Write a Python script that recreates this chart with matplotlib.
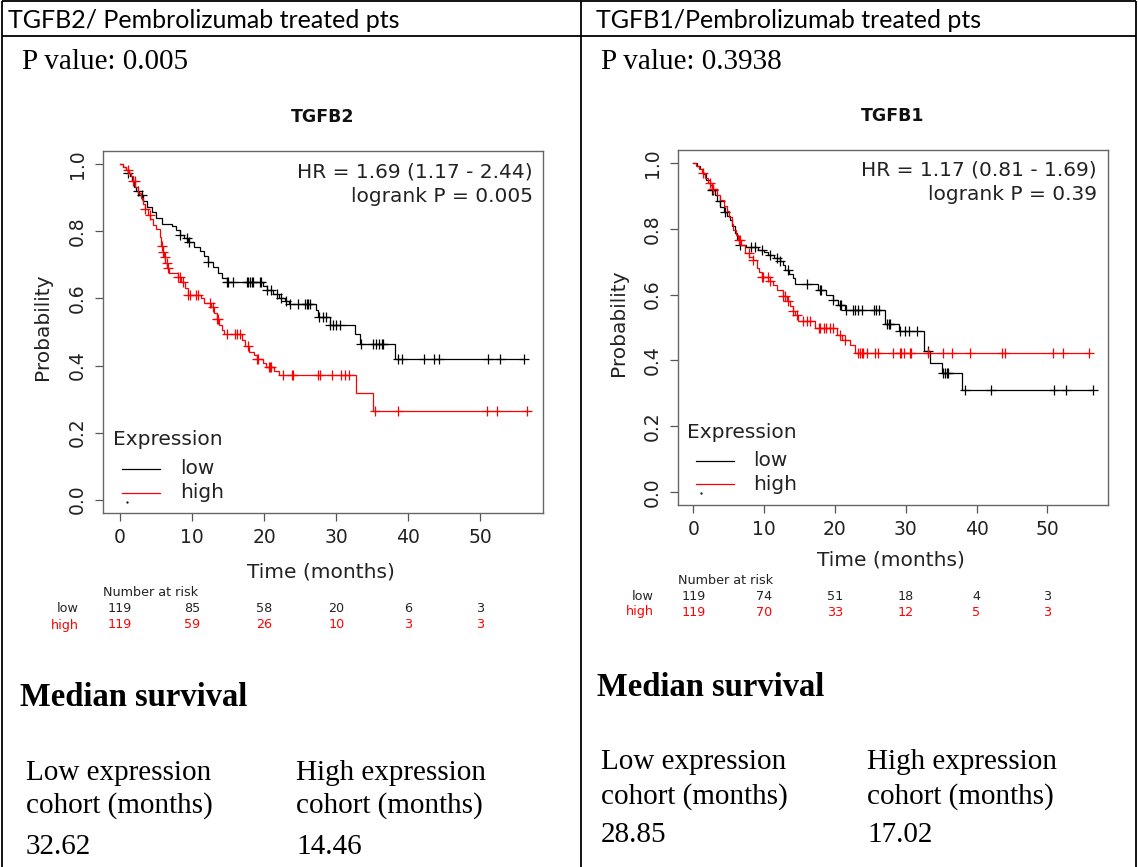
import matplotlib
matplotlib.use("Agg")
import matplotlib.pyplot as plt
import numpy as np
from matplotlib.lines import Line2D
from matplotlib.transforms import blended_transform_factory

# ---------------------------------------------------------------- data
headers = ["TGFB2/ Pembrolizumab treated pts", "TGFB1/Pembrolizumab treated pts"]
p_values = ["0.005", "0.3938"]
genes = ["TGFB2", "TGFB1"]
hr_texts = ["HR = 1.69 (1.17 - 2.44)", "HR = 1.17 (0.81 - 1.69)"]
logrank_texts = ["logrank P = 0.005", "logrank P = 0.39"]

time_ticks = [0, 10, 20, 30, 40, 50]
prob_ticks = [0.0, 0.2, 0.4, 0.6, 0.8, 1.0]
groups = ["low", "high"]

# TGFB2 Kaplan-Meier steps (time in months, survival after the step)
tgfb2_low_t = [0, 0.4, 0.8, 1.1, 1.4, 1.7, 2.0, 2.2, 2.7, 3.2, 3.7, 4.4, 5.0, 5.8,
               7.2, 7.8, 8.3, 8.9, 9.4, 10.2, 11.1, 11.6, 12.2, 12.9, 13.6, 14.2,
               14.8, 19.8, 20.4, 21.2, 22.0, 22.9, 23.5, 27.2, 27.5, 29.1, 32.6,
               33.3, 38.1]
tgfb2_low_s = [1.0, 0.992, 0.983, 0.975, 0.966, 0.950, 0.933, 0.920, 0.908, 0.891,
               0.874, 0.857, 0.840, 0.823, 0.815, 0.803, 0.790, 0.779, 0.768, 0.755,
               0.742, 0.727, 0.710, 0.693, 0.676, 0.662, 0.649, 0.637, 0.625, 0.613,
               0.601, 0.592, 0.584, 0.565, 0.546, 0.521, 0.495, 0.465, 0.419]
tgfb2_low_cens = [1.15, 2.5, 3.0, 8.3, 9.25, 9.5, 12.2, 14.8, 15.0, 15.7, 17.6,
                  17.8, 18.0, 18.3, 18.5, 19.4, 19.6, 20.4, 20.9, 21.8, 22.3, 23.0,
                  23.6, 24.7, 25.6, 25.9, 26.1, 26.4, 27.6, 28.1, 28.6, 29.1, 29.5,
                  30.0, 30.5, 33.4, 35.1, 35.5, 35.9, 36.3, 36.5, 38.6, 39.1, 42.1,
                  43.6, 44.2, 51.1, 52.7, 56.1]

tgfb2_high_t = [0, 0.4, 0.8, 1.2, 1.5, 1.8, 2.1, 2.5, 2.9, 3.2, 3.4, 3.9, 4.2, 4.6,
                5.0, 5.5, 5.7, 5.9, 6.1, 6.3, 6.5, 6.8, 8.0, 8.5, 9.0, 9.4, 11.3,
                11.7, 12.6, 13.1, 13.4, 13.7, 14.1, 14.4, 16.9, 17.3, 17.9, 18.6,
                19.0, 19.8, 20.2, 21.3, 22.0, 32.7, 35.1]
tgfb2_high_s = [1.0, 0.992, 0.983, 0.975, 0.966, 0.950, 0.933, 0.916, 0.899, 0.882,
                0.866, 0.849, 0.837, 0.820, 0.807, 0.782, 0.757, 0.740, 0.723, 0.706,
                0.690, 0.676, 0.665, 0.649, 0.630, 0.611, 0.600, 0.588, 0.575, 0.556,
                0.540, 0.522, 0.506, 0.494, 0.476, 0.458, 0.441, 0.430, 0.419, 0.407,
                0.396, 0.384, 0.371, 0.317, 0.264]
tgfb2_high_cens = [1.15, 1.85, 2.08, 3.47, 4.16, 5.78, 6.0, 6.24, 6.47, 6.7, 8.09,
                   8.32, 8.78, 9.48, 9.71, 10.6, 10.86, 12.48, 12.94, 13.4, 13.6,
                   14.8, 15.95, 16.2, 16.6, 17.8, 19.0, 19.2, 20.6, 20.8, 21.0,
                   22.65, 23.8, 24.0, 27.5, 27.7, 29.4, 30.7, 31.2, 31.7, 35.4,
                   38.6, 50.9, 52.3, 56.4]

# TGFB1 Kaplan-Meier steps
tgfb1_low_t = [0, 0.5, 1.0, 1.4, 1.8, 2.35, 2.6, 3.0, 3.4, 3.8, 4.3, 4.7, 5.2, 5.5,
               5.9, 6.2, 6.6, 7.5, 9.2, 10.0, 10.6, 11.4, 12.2, 12.6, 12.95, 13.5,
               14.1, 14.4, 17.6, 18.8, 19.8, 20.5, 21.4, 27.1, 29.0, 32.6, 33.4,
               35.1, 37.9]
tgfb1_low_s = [1.0, 0.992, 0.983, 0.966, 0.950, 0.933, 0.919, 0.902, 0.885, 0.868,
               0.851, 0.838, 0.828, 0.808, 0.787, 0.770, 0.752, 0.745, 0.737, 0.729,
               0.721, 0.711, 0.701, 0.689, 0.676, 0.663, 0.650, 0.633, 0.615, 0.600,
               0.585, 0.569, 0.554, 0.512, 0.488, 0.427, 0.392, 0.362, 0.309]
tgfb1_low_cens = [2.6, 2.8, 3.77, 4.5, 6.6, 8.2, 8.7, 9.7, 10.8, 11.8, 12.2, 13.4,
                  16.0, 17.9, 18.1, 19.8, 20.7, 20.9, 21.6, 22.5, 22.8, 23.2, 23.8,
                  25.5, 25.8, 26.2, 27.3, 27.6, 27.8, 29.2, 29.9, 30.4, 31.6, 33.2,
                  35.3, 35.5, 35.8, 36.0, 38.4, 42.1, 50.9, 52.7, 56.4]

tgfb1_high_t = [0, 0.4, 0.8, 1.2, 1.6, 2.1, 2.6, 3.3, 3.8, 4.3, 4.7, 5.0, 5.4, 5.65,
                6.0, 6.36, 6.7, 7.3, 7.9, 8.5, 8.95, 9.3, 9.66, 10.8, 11.3, 11.8,
                12.7, 13.2, 13.7, 14.1, 14.4, 14.8, 17.2, 20.25, 21.0, 22.1, 22.8]
tgfb1_high_s = [1.0, 0.992, 0.983, 0.970, 0.955, 0.939, 0.921, 0.904, 0.887, 0.870,
                0.853, 0.836, 0.816, 0.797, 0.782, 0.767, 0.750, 0.726, 0.716, 0.706,
                0.681, 0.668, 0.655, 0.640, 0.628, 0.615, 0.595, 0.580, 0.564, 0.551,
                0.539, 0.519, 0.498, 0.478, 0.463, 0.448, 0.422]
tgfb1_high_cens = [1.41, 2.35, 2.8, 6.4, 6.6, 7.8, 8.5, 9.7, 9.9, 10.6, 10.8, 12.7,
                   12.9, 13.4, 14.1, 14.6, 15.5, 16.0, 16.5, 17.7, 17.9, 18.4, 18.8,
                   19.3, 19.8, 20.7, 21.4, 23.3, 23.55, 23.8, 24.0, 24.5, 25.7,
                   26.1, 28.2, 29.2, 29.4, 29.7, 30.6, 30.8, 33.2, 35.3, 36.5, 39.1,
                   43.6, 44.0, 50.8, 52.2, 55.9]

# Number at risk
tgfb2_risk_low = [119, 85, 58, 20, 6, 3]
tgfb2_risk_high = [119, 59, 26, 10, 3, 3]
tgfb1_risk_low = [119, 74, 51, 18, 4, 3]
tgfb1_risk_high = [119, 70, 33, 12, 5, 3]

# Median survival (months)
median_low = ["32.62", "28.85"]
median_high = ["14.46", "17.02"]

# ---------------------------------------------------------------- figure
W, H = 1138, 867
fig = plt.figure(figsize=(W / 100, H / 100), dpi=100)
plt.rcParams["font.family"] = ["DejaVu Sans"]

SERIF = "Liberation Serif"
HEAD = "Lato"
LOW_C = "black"
HIGH_C = "#ff0000"


def fx(x):
    return x / W


def fy(y):
    return 1 - y / H


def ftext(x, y, s, **kw):
    return fig.text(fx(x), fy(y), s, **kw)


def fline(x0, y0, x1, y1, **kw):
    fig.add_artist(Line2D([fx(x0), fx(x1)], [fy(y0), fy(y1)],
                          transform=fig.transFigure, **kw))


def add_axes_px(x0, y0, x1, y1):
    return fig.add_axes([fx(x0), fy(y1), (x1 - x0) / W, (y1 - y0) / H])


def km_draw(ax, t, s, cens, color):
    t = np.asarray(t, float)
    s = np.asarray(s, float)
    cens = np.asarray(cens, float)
    t_end = cens.max()
    ax.step(np.append(t, t_end), np.append(s, s[-1]), where="post",
            color=color, lw=0.9, solid_joinstyle="miter")
    idx = np.searchsorted(t, cens, side="right") - 1
    ax.plot(cens, s[idx], ls="none", marker="+", ms=7.5, mew=0.9, color=color)


# ---------------------------------------------------------------- table frame
frame_kw = dict(color="black", lw=1.3, solid_capstyle="butt")
fline(2, 1, 1136, 1, **frame_kw)
fline(2, 1, 2, 867, **frame_kw)
fline(1136, 1, 1136, 867, **frame_kw)
fline(581, 1, 581, 867, **frame_kw)
fline(2, 36, 1136, 36, **frame_kw)

# ---------------------------------------------------------------- panels
panels = [
    dict(box=(103, 151, 543, 513), xlim=(-2.36, 58.67),
         low=(tgfb2_low_t, tgfb2_low_s, tgfb2_low_cens),
         high=(tgfb2_high_t, tgfb2_high_s, tgfb2_high_cens),
         risk=(tgfb2_risk_low, tgfb2_risk_high),
         head_x=8, p_x=22, p_y=62, title_y=117, ylab_x=42, xlab_y=572,
         risk_y=(592, 608, 625), risk_lab_x=79,
         hr_x=533, hr_y=(172, 197),
         leg=dict(title=(113, 440), line=(122, 160), txt=180, rows=(469, 493)),
         med=dict(title=(20, 697), xs=(26, 296), ys=(773, 806, 847))),
    dict(box=(678, 150, 1108, 505), xlim=(-2.16, 58.57),
         low=(tgfb1_low_t, tgfb1_low_s, tgfb1_low_cens),
         high=(tgfb1_high_t, tgfb1_high_s, tgfb1_high_cens),
         risk=(tgfb1_risk_low, tgfb1_risk_high),
         head_x=596, p_x=601, p_y=62, title_y=116, ylab_x=619, xlab_y=560,
         risk_y=(580, 596, 612), risk_lab_x=654,
         hr_x=1097, hr_y=(170, 195),
         leg=dict(title=(687, 432), line=(696, 734), txt=753, rows=(461, 484)),
         med=dict(title=(597, 688), xs=(601, 867), ys=(762, 797, 835))),
]

for i, pn in enumerate(panels):
    x0, y0, x1, y1 = pn["box"]
    ax = add_axes_px(x0, y0, x1, y1)
    km_draw(ax, *pn["low"], LOW_C)
    km_draw(ax, *pn["high"], HIGH_C)

    ax.set_xlim(*pn["xlim"])
    ax.set_ylim(-0.04, 1.04)
    ax.set_xticks(time_ticks)
    ax.set_xticklabels([str(v) for v in time_ticks])
    ax.set_yticks(prob_ticks)
    ax.set_yticklabels([f"{v:.1f}" for v in prob_ticks], rotation=90, va="center")
    ax.tick_params(direction="out", length=6, width=0.9, color="#555555",
                   labelsize=13.5, labelcolor="#222222")
    ax.tick_params(axis="x", pad=4.5)
    ax.tick_params(axis="y", pad=5.5)
    for sp in ax.spines.values():
        sp.set_color("#666666")
        sp.set_linewidth(1.0)

    cx = (x0 + x1) / 2
    ftext(cx, pn["title_y"], genes[i], ha="center", va="center",
          fontsize=12.5, fontweight="bold", color="#111111")
    ftext(pn["ylab_x"], (y0 + y1) / 2 - 5, "Probability", rotation=90,
          ha="center", va="center", fontsize=14.5, color="#222222")
    ftext(cx - 2, pn["xlab_y"], "Time (months)", ha="center", va="center",
          fontsize=14.5, color="#222222")

    # HR / logrank annotation
    ftext(pn["hr_x"], pn["hr_y"][0], hr_texts[i], ha="right", va="center",
          fontsize=14.5, color="#222222")
    ftext(pn["hr_x"], pn["hr_y"][1], logrank_texts[i], ha="right", va="center",
          fontsize=14.5, color="#222222")

    # legend
    lg = pn["leg"]
    ftext(lg["title"][0], lg["title"][1], "Expression", ha="left", va="center",
          fontsize=14.5, color="#222222")
    for g, col, ry in zip(groups, (LOW_C, HIGH_C), lg["rows"]):
        fline(lg["line"][0], ry, lg["line"][1], ry, color=col, lw=0.9)
        ftext(lg["txt"], ry, g, ha="left", va="center", fontsize=14.5,
              color="#222222")
    fig.add_artist(Line2D([fx(lg["line"][0] + 5)], [fy(lg["rows"][1] + 9)],
                          transform=fig.transFigure, marker=".", ms=1.2,
                          color="black", ls="none"))

    # number at risk, aligned with the time axis
    tr = blended_transform_factory(ax.transData, fig.transFigure)
    ftext(x0, pn["risk_y"][0], "Number at risk", ha="left", va="center",
          fontsize=9.2, color="#222222")
    for vals, g, col, ry in zip(pn["risk"], groups, ("#222222", HIGH_C),
                                pn["risk_y"][1:]):
        ftext(pn["risk_lab_x"], ry, g, ha="right", va="center", fontsize=9.2,
              color=col)
        for t, v in zip(time_ticks, vals):
            fig.text(t, fy(ry), str(v), transform=tr, ha="center", va="center",
                     fontsize=9.2, color=col)

    # table text
    ftext(pn["head_x"], 20, headers[i], ha="left", va="center",
          fontsize=18, family=HEAD, color="black")
    ftext(pn["p_x"], pn["p_y"], f"P value: {p_values[i]}", ha="left",
          va="center", fontsize=21, family=SERIF, color="black")
    md = pn["med"]
    ftext(md["title"][0], md["title"][1], "Median survival", ha="left",
          va="center", fontsize=23.5, family=SERIF, fontweight="bold",
          color="black")
    for mx, lab, val in zip(md["xs"], ("Low expression", "High expression"),
                            (median_low[i], median_high[i])):
        ftext(mx, md["ys"][0], lab, ha="left", va="center", fontsize=21,
              family=SERIF, color="black")
        ftext(mx, md["ys"][1], "cohort (months)", ha="left", va="center",
              fontsize=21, family=SERIF, color="black")
        ftext(mx, md["ys"][2], val, ha="left", va="center", fontsize=21,
              family=SERIF, color="black")

fig.savefig("out.png", dpi=100, facecolor="white")
